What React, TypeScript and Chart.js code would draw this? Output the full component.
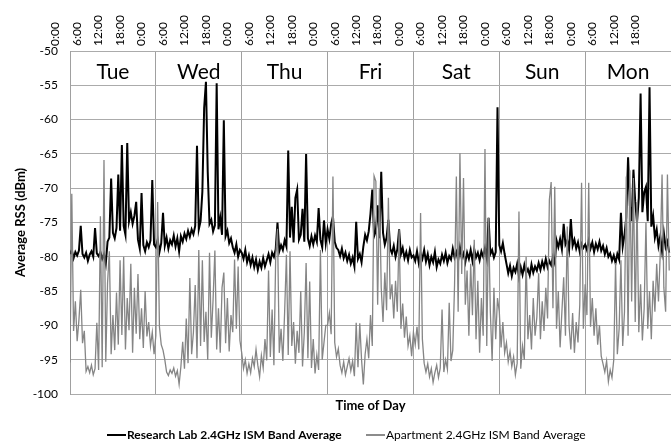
import React, { useEffect, useRef } from 'react';
import { Chart, registerables } from 'chart.js';

Chart.register(...registerables);

// ---------- categories / labels ----------
const dayNames = ['Tue', 'Wed', 'Thu', 'Fri', 'Sat', 'Sun', 'Mon'];
const hourLabels = ['0:00', '6:00', '12:00', '18:00'];
const seriesNames = ['Research Lab 2.4GHz ISM Band Average', 'Apartment 2.4GHz ISM Band Average'];
const yTitle = 'Average RSS (dBm)';
const xTitle = 'Time of Day';

// ---------- data: half-hour samples, 48 per day (dBm) ----------
// Research Lab
const labTue = [-79.6, -79.0, -80.2, -79.3, -79.8, -79.1, -75.5, -79.6, -80.1, -79.4, -80.6, -79.7, -79.2, -80.0, -75.8, -79.5, -79.9, -79.3, -80.3, -79.6, -81.0, -77.8, -77.2, -68.6, -76.5, -77.3, -75.8, -68.0, -76.2, -63.7, -75.5, -76.8, -63.4, -74.8, -73.5, -75.2, -74.0, -72.0, -77.5, -78.8, -70.7, -78.3, -79.2, -77.9, -78.6, -77.6, -68.8, -78.2];
const labWed = [-78.6, -77.5, -79.3, -78.0, -73.6, -78.4, -77.2, -78.8, -77.6, -78.2, -76.9, -78.5, -77.3, -79.2, -77.0, -77.8, -76.6, -77.4, -76.2, -77.1, -76.0, -76.7, -75.5, -63.8, -76.0, -74.8, -70.5, -58.3, -54.5, -67.6, -75.2, -74.6, -76.3, -75.4, -54.7, -76.0, -74.3, -76.8, -60.1, -77.0, -76.2, -78.0, -77.3, -78.6, -79.4, -78.2, -80.0, -79.0];
const labThu = [-79.4, -80.3, -79.0, -80.8, -79.8, -81.2, -80.1, -81.5, -80.4, -81.9, -80.7, -81.6, -80.2, -81.4, -80.5, -79.6, -80.8, -79.4, -80.0, -78.9, -75.0, -79.2, -78.3, -79.0, -77.6, -78.5, -64.5, -77.2, -72.7, -77.9, -71.4, -70.2, -77.5, -76.8, -73.0, -77.8, -65.0, -77.3, -78.4, -77.0, -78.2, -76.9, -77.8, -72.9, -77.5, -78.6, -74.7, -78.0];
const labFri = [-76.0, -77.4, -75.2, -74.1, -77.8, -78.7, -79.0, -79.9, -78.8, -80.2, -79.4, -80.6, -79.7, -81.0, -80.1, -81.4, -74.9, -80.3, -79.6, -80.8, -78.5, -76.8, -77.6, -76.3, -73.7, -70.2, -77.0, -76.2, -72.5, -77.3, -67.6, -76.5, -78.2, -77.2, -74.6, -78.8, -79.5, -78.4, -80.0, -78.9, -76.0, -79.6, -78.7, -80.2, -79.3, -80.5, -79.0, -80.1];
const labSat = [-79.8, -80.6, -79.2, -80.9, -79.5, -80.3, -79.0, -80.7, -79.6, -81.2, -80.0, -80.8, -79.3, -81.5, -80.4, -81.0, -79.7, -80.6, -79.4, -80.9, -79.9, -80.4, -78.8, -80.1, -79.3, -80.5, -78.6, -80.2, -79.5, -80.8, -79.4, -80.3, -79.0, -80.6, -78.9, -80.1, -79.4, -80.5, -79.2, -80.0, -78.7, -80.2, -74.3, -79.6, -79.0, -80.1, -79.3, -58.2];
const labSun = [-78.3, -79.2, -78.0, -79.6, -81.0, -82.4, -81.3, -82.8, -81.6, -82.2, -81.0, -82.9, -81.5, -82.6, -81.2, -82.4, -81.8, -82.7, -81.1, -82.3, -81.4, -82.0, -80.9, -81.9, -80.7, -81.6, -80.3, -81.5, -80.6, -81.2, -80.0, -80.9, -77.6, -78.6, -77.4, -78.9, -75.2, -78.2, -77.6, -79.0, -74.5, -78.4, -77.5, -78.8, -77.9, -79.3, -78.1, -78.7];
const labMon = [-78.2, -79.0, -77.6, -78.8, -77.9, -79.3, -78.1, -78.9, -77.8, -79.1, -78.4, -79.6, -78.7, -80.0, -79.5, -80.6, -79.8, -80.9, -79.6, -80.4, -73.6, -78.5, -76.8, -74.2, -65.5, -72.5, -74.8, -67.3, -72.0, -75.0, -71.4, -56.2, -73.5, -70.6, -69.8, -74.8, -55.3, -75.6, -74.0, -77.2, -76.0, -78.4, -77.0, -79.2, -76.5, -78.6, -77.8, -79.4];

// Apartment
const aptTue = [-95.4, -70.8, -90.8, -86.5, -92.3, -89.2, -84.8, -92.6, -90.8, -96.7, -96.0, -96.9, -95.8, -97.2, -96.3, -89.6, -96.5, -74.1, -96.1, -65.9, -95.3, -83.8, -79.2, -94.2, -88.5, -93.6, -85.2, -92.8, -80.5, -91.4, -80.0, -93.5, -86.0, -90.7, -81.0, -94.0, -84.5, -91.2, -82.5, -92.0, -87.5, -93.3, -85.0, -91.6, -89.5, -93.0, -91.0, -94.2];
const aptWed = [-91.5, -72.0, -90.2, -92.8, -93.6, -95.0, -96.8, -97.3, -96.5, -97.0, -96.2, -97.4, -96.6, -98.6, -96.0, -92.4, -96.3, -89.0, -95.5, -83.1, -94.2, -91.0, -84.1, -94.8, -79.0, -93.0, -80.5, -92.4, -88.0, -95.0, -79.4, -91.8, -86.2, -79.1, -93.5, -87.5, -94.0, -84.5, -82.3, -92.6, -86.0, -93.8, -88.5, -91.0, -80.4, -90.5, -81.4, -92.2];
const aptThu = [-94.0, -96.3, -95.0, -97.0, -95.6, -96.9, -94.8, -96.0, -93.5, -95.8, -97.5, -94.4, -96.2, -92.0, -95.1, -82.0, -94.6, -87.7, -95.8, -80.0, -75.9, -94.0, -90.5, -95.2, -88.0, -79.7, -94.3, -79.2, -93.0, -89.5, -95.6, -90.8, -94.0, -85.0, -96.0, -91.0, -80.9, -94.8, -83.6, -96.2, -92.0, -97.0, -94.3, -96.5, -79.0, -95.0, -92.5, -90.0];
const aptFri = [-90.0, -88.2, -91.3, -68.3, -92.5, -94.6, -93.4, -95.8, -96.9, -95.3, -97.2, -96.0, -94.8, -96.6, -95.2, -97.4, -89.6, -96.1, -89.7, -95.0, -98.6, -94.2, -92.0, -94.8, -88.5, -93.0, -68.2, -69.0, -87.0, -70.0, -84.5, -89.5, -82.3, -87.8, -71.4, -86.2, -84.0, -89.0, -83.5, -88.0, -76.1, -90.5, -86.8, -91.8, -88.7, -93.0, -91.5, -94.5];
const aptSat = [-91.0, -92.8, -90.2, -93.5, -73.6, -92.0, -95.5, -96.8, -95.6, -97.5, -96.3, -98.3, -96.9, -95.8, -97.6, -96.2, -87.7, -96.8, -95.0, -96.4, -86.7, -95.2, -93.6, -84.0, -68.3, -88.0, -64.9, -82.5, -68.5, -87.0, -82.0, -91.5, -81.0, -88.5, -77.5, -92.0, -83.5, -94.0, -86.0, -91.5, -64.3, -93.0, -74.3, -88.0, -95.2, -84.5, -92.0, -86.0];
const aptSun = [-88.0, -93.2, -89.5, -94.0, -92.5, -95.3, -93.8, -96.0, -94.6, -97.2, -95.5, -73.4, -96.3, -93.0, -95.0, -80.0, -92.0, -88.5, -93.5, -86.0, -91.5, -88.8, -82.4, -92.0, -86.5, -90.8, -84.5, -89.0, -71.7, -69.1, -87.5, -69.8, -90.5, -85.0, -93.2, -88.0, -83.0, -91.5, -75.6, -90.0, -93.5, -88.2, -94.0, -89.5, -92.5, -87.0, -69.2, -90.5];
const aptMon = [-84.0, -88.5, -69.2, -90.2, -86.0, -91.5, -87.5, -92.8, -90.0, -94.5, -95.6, -96.8, -95.2, -98.2, -96.5, -97.6, -95.0, -80.9, -94.2, -90.5, -80.5, -93.0, -88.0, -68.3, -91.5, -67.4, -86.5, -68.5, -89.5, -72.0, -91.0, -84.0, -92.2, -87.5, -75.0, -90.5, -85.0, -92.0, -83.5, -88.0, -81.0, -86.5, -79.5, -68.0, -84.5, -88.0, -68.0, -82.0];

const labDays = [labTue, labWed, labThu, labFri, labSat, labSun, labMon];
const aptDays = [aptTue, aptWed, aptThu, aptFri, aptSat, aptSun, aptMon];

const FONT = "Lato, 'Open Sans', 'DejaVu Sans', sans-serif";
const HOURS_PER_DAY = 24;
const SAMPLE_HOURS = 0.5;

function toPoints(days: number[][]) {
  return days.flat().map((y, i) => ({ x: i * SAMPLE_HOURS, y }));
}

// tick positions (hours) for every label shown on the top axis
const tickHours = dayNames.flatMap((_, d) => hourLabels.map((_l, k) => d * HOURS_PER_DAY + k * 6));

const overlayPlugin = {
  id: 'overlay',
  afterDatasetsDraw(chart: any) {
    const { ctx, chartArea, scales } = chart;
    const xs = scales.x;
    ctx.save();
    ctx.fillStyle = '#000';
    ctx.font = `21px ${FONT}`;
    ctx.textAlign = 'center';
    ctx.textBaseline = 'middle';
    dayNames.forEach((d, i) => {
      const cx = (xs.getPixelForValue(i * HOURS_PER_DAY) + xs.getPixelForValue((i + 1) * HOURS_PER_DAY)) / 2;
      ctx.fillText(d, cx, chartArea.top + 21);
    });
    ctx.restore();
  },
  afterDraw(chart: any) {
    const { ctx } = chart;
    ctx.save();
    const y = 435;
    const items = [
      { x: 107, color: '#000000', weight: 'bold', text: seriesNames[0] },
      { x: 366, color: '#8c8c8c', weight: 'normal', text: seriesNames[1] },
    ];
    items.forEach((it) => {
      ctx.strokeStyle = it.color;
      ctx.lineWidth = 2;
      ctx.beginPath();
      ctx.moveTo(it.x, y);
      ctx.lineTo(it.x + 19, y);
      ctx.stroke();
      ctx.fillStyle = '#000';
      ctx.font = `${it.weight} 12px ${FONT}`;
      ctx.textAlign = 'left';
      ctx.textBaseline = 'middle';
      ctx.fillText(it.text, it.x + 20, y);
    });
    ctx.restore();
  },
};

export default function App() {
  const ref = useRef<HTMLCanvasElement | null>(null);

  useEffect(() => {
    document.body.style.margin = '0';
    if (!ref.current) return;
    const chart = new Chart(ref.current, {
      type: 'line',
      data: {
        datasets: [
          {
            label: seriesNames[0],
            data: toPoints(labDays),
            borderColor: '#000000',
            borderWidth: 2,
            pointRadius: 0,
            tension: 0,
            order: 1,
            xAxisID: 'x',
          },
          {
            label: seriesNames[1],
            data: toPoints(aptDays),
            borderColor: '#858585',
            borderWidth: 1.3,
            pointRadius: 0,
            tension: 0,
            order: 0,
            xAxisID: 'x',
          },
        ],
      },
      options: {
        animation: false,
        responsive: false,
        devicePixelRatio: 1,
        layout: { padding: 0 },
        plugins: { legend: { display: false }, tooltip: { enabled: false } },
        scales: {
          x: {
            type: 'linear',
            position: 'top',
            min: 0,
            max: 168,
            afterFit: (s: any) => { s.height = 51; },
            afterBuildTicks: (s: any) => { s.ticks = tickHours.map((v) => ({ value: v })); },
            ticks: {
              autoSkip: false,
              maxRotation: 90,
              minRotation: 90,
              padding: 5,
              color: '#000',
              font: { family: FONT, size: 12 },
              callback: (_v: any, index: number) => hourLabels[index % hourLabels.length],
            },
            grid: {
              drawTicks: false,
              color: (c: any) => (c.tick && c.tick.value % HOURS_PER_DAY === 0 ? '#a0a0a0' : 'rgba(0,0,0,0)'),
              lineWidth: 1,
            },
            border: { display: false },
          },
          xb: {
            type: 'linear',
            position: 'bottom',
            min: 0,
            max: 168,
            afterFit: (s: any) => { s.height = 48; },
            ticks: { display: false },
            grid: { display: false, drawTicks: false },
            border: { display: false },
            title: {
              display: true,
              text: xTitle,
              color: '#000',
              font: { family: FONT, size: 13, weight: 'bold' },
              padding: { top: 0, bottom: 28 },
            },
          },
          y: {
            type: 'linear',
            min: -100,
            max: -50,
            afterFit: (s: any) => { s.width = 70; },
            ticks: {
              stepSize: 5,
              padding: 12,
              color: '#000',
              font: { family: FONT, size: 12 },
            },
            grid: { drawTicks: false, color: '#ababab', lineWidth: 1 },
            border: { display: true, color: '#a0a0a0' },
            title: {
              display: true,
              text: yTitle,
              color: '#000',
              font: { family: FONT, size: 13, weight: 'bold' },
              padding: { top: 13, bottom: 0 },
            },
          },
        },
      } as any,
      plugins: [overlayPlugin],
    });
    return () => chart.destroy();
  }, []);

  return (
    <div style={{ width: 671, height: 442 }}>
      <canvas ref={ref} width={671} height={442} />
    </div>
  );
}
